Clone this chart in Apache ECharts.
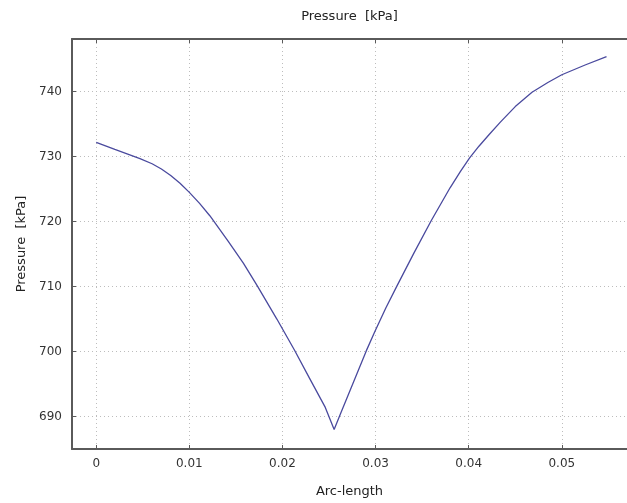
<!DOCTYPE html>
<html lang="en">
<head>
	<meta charset="utf-8">
	<title>Pressure</title>
	<script type="text/javascript" src="https://cdn.jsdelivr.net/npm/echarts@6/dist/echarts.min.js"></script>
	<style type="text/css">
		html, body { margin: 0; padding: 0; background: #fff; width: 100%; height: 100%; overflow: hidden; }
		#chartmain { width: 100%; height: 100%; }
	</style>
</head>
<body>
	<div id="chartmain"></div>
	<script type="text/javascript">
		// arc-length along the cut line
		var arcLength = [0, 0.0020, 0.0047, 0.0060, 0.0070, 0.0080, 0.0090, 0.0100, 0.0111, 0.0122,
			0.0142, 0.0158, 0.0173, 0.0194, 0.0213, 0.0229, 0.0246, 0.02555, 0.0262, 0.0290,
			0.0299, 0.0311, 0.0323, 0.0341, 0.0360, 0.0380, 0.0391, 0.0401, 0.0411, 0.0422,
			0.0434, 0.0450, 0.0468, 0.0485, 0.0500, 0.0525, 0.0548];
		// pressure in kPa
		var pressure = [732.2, 731.1, 729.7, 728.9, 728.1, 727.1, 725.9, 724.5, 722.8, 720.9,
			716.9, 713.6, 710.1, 705.0, 700.2, 695.9, 691.4, 688.0, 690.3, 700.1,
			703.0, 706.7, 710.1, 715.1, 720.2, 725.2, 727.7, 729.8, 731.6, 733.4,
			735.3, 737.7, 739.9, 741.4, 742.6, 744.1, 745.4];
		var xTicks = [0, 0.01, 0.02, 0.03, 0.04, 0.05];
		var yTicks = [690, 700, 710, 720, 730, 740];

		var points = arcLength.map(function (x, i) { return [x, pressure[i]]; });

		var myChart = echarts.init(document.getElementById("chartmain"));

		var font = "DejaVu Sans";
		var axisColor = '#5a5a5a';
		var gridLine = { show: true, lineStyle: { color: '#bdbdbd', type: [1, 3], width: 1 } };

		var option = {
			backgroundColor: '#fff',
			animation: false,
			grid: { left: 72, right: 0, top: 39, bottom: 48, containLabel: false },
			xAxis: [{
				type: 'value',
				position: 'bottom',
				min: -0.0026,
				max: 0.057,
				name: 'Arc-length',
				nameLocation: 'middle',
				nameGap: 36,
				nameTextStyle: { fontFamily: font, fontSize: 13, color: '#222' },
				axisLine: { show: true, onZero: false, lineStyle: { color: axisColor, width: 2 } },
				axisTick: { show: true, inside: true, length: 4, customValues: xTicks, lineStyle: { color: axisColor } },
				axisLabel: { customValues: xTicks, margin: 9, fontFamily: font, fontSize: 12, color: '#333',
					formatter: function (v) { return String(+v.toFixed(3)); } },
				splitLine: gridLine
			}, {
				type: 'value',
				position: 'top',
				min: -0.0026,
				max: 0.057,
				name: 'Pressure  [kPa]',
				nameLocation: 'middle',
				nameGap: 16,
				nameTextStyle: { fontFamily: font, fontSize: 13, color: '#222' },
				axisLine: { show: true, onZero: false, lineStyle: { color: axisColor, width: 2 } },
				axisTick: { show: true, inside: true, length: 4, customValues: xTicks, lineStyle: { color: axisColor } },
				axisLabel: { show: false },
				splitLine: { show: false }
			}],
			yAxis: {
				type: 'value',
				min: 685,
				max: 748.1,
				name: 'Pressure  [kPa]',
				nameLocation: 'middle',
				nameGap: 44,
				nameTextStyle: { fontFamily: font, fontSize: 13, color: '#222' },
				axisLine: { show: true, onZero: false, lineStyle: { color: axisColor, width: 2 } },
				axisTick: { show: true, inside: true, length: 4, customValues: yTicks, lineStyle: { color: axisColor } },
				axisLabel: { customValues: yTicks, margin: 10, fontFamily: font, fontSize: 12, color: '#333' },
				splitLine: gridLine
			},
			series: [{
				type: 'line',
				xAxisIndex: 0,
				data: points,
				showSymbol: false,
				smooth: false,
				lineStyle: { color: '#4a4a9e', width: 1.3 }
			}]
		};

		myChart.setOption(option);
	</script>
</body>
</html>
